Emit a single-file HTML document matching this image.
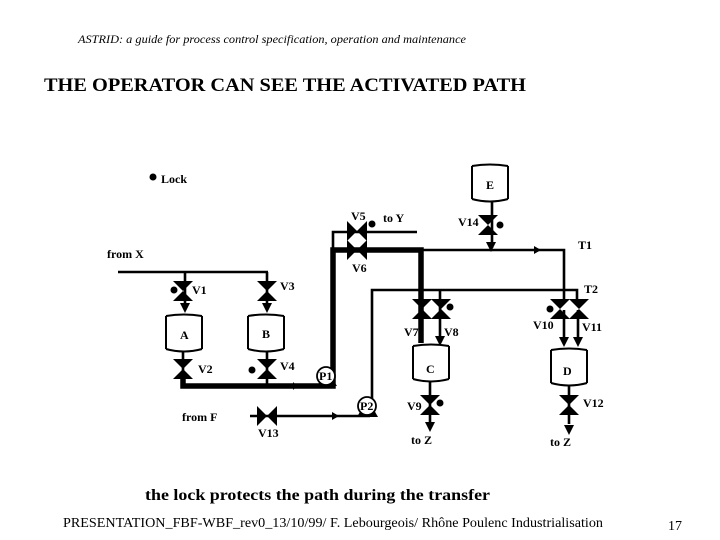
<!DOCTYPE html>
<html><head><meta charset="utf-8"><style>
html,body{margin:0;padding:0;background:#fff}
svg{display:block}
text{font-family:"Liberation Serif",serif;fill:#000}
.l{font-size:12px;font-weight:bold}
</style></head><body>
<svg width="720" height="540" viewBox="0 0 720 540" xmlns="http://www.w3.org/2000/svg">
<defs>
<polygon id="v" points="-10,-10 10,-10 -10,10 10,10" fill="#000"/>
<polygon id="h" points="-10,-10 10,10 10,-10 -10,10" fill="#000"/>
<polygon id="a" points="-5,-6 5,-6 0,4" fill="#000"/>
<g id="t"><rect x="0" y="1" width="38" height="38" rx="2" fill="#fff" stroke="none"/>
<path d="M1 3V36M37 3V36" stroke="#000" stroke-width="2" fill="none"/>
<path d="M1 3Q19 0 37 3M1 36Q19 41 37 36" stroke="#000" stroke-width="2" fill="none"/></g>
</defs>
<text x="78" y="43" font-size="12" font-style="italic" textLength="388" lengthAdjust="spacingAndGlyphs">ASTRID: a guide for process control specification, operation and maintenance</text>
<text x="44" y="91" font-size="19" font-weight="bold" textLength="482" lengthAdjust="spacingAndGlyphs">THE OPERATOR CAN SEE THE ACTIVATED PATH</text>
<text x="145" y="500" font-size="16" font-weight="bold" textLength="345" lengthAdjust="spacingAndGlyphs">the lock protects the path during the transfer</text>
<text x="63" y="527" font-size="14" textLength="540" lengthAdjust="spacingAndGlyphs">PRESENTATION_FBF-WBF_rev0_13/10/99/ F. Lebourgeois/ Rhône Poulenc Industrialisation</text>
<text x="668" y="530" font-size="14">17</text>

<!-- thin pipes -->
<g stroke="#000" stroke-width="2.6" fill="none">
<path d="M118 272H268M185 272V308M267 272V308"/>
<path d="M183 352V386M267 352V386"/>
<path d="M333 250V232H417"/>
<path d="M421 250H564V300M492 202V248"/>
<path d="M372 406V290H577V300M440 290V343"/>
<path d="M250 416H370"/>
<path d="M564 310V342M578 310V342"/>
<path d="M430 382V422M569 385V424"/>
</g>
<!-- thick active path -->
<g stroke="#000" stroke-width="5.5" fill="none">
<path d="M183 379V386H333V250H421V343"/>
</g>
<!-- valves -->
<use href="#v" x="183" y="291"/>
<use href="#v" x="267" y="291"/>
<use href="#v" x="183" y="369"/>
<use href="#v" x="267" y="369"/>
<use href="#h" x="357" y="231"/>
<use href="#h" x="357" y="250"/>
<use href="#v" x="488" y="225"/>
<use href="#v" x="422" y="309"/>
<use href="#v" x="441" y="309"/>
<use href="#v" x="560" y="309"/>
<use href="#v" x="579" y="309"/>
<use href="#v" x="430" y="405"/>
<use href="#v" x="569" y="405"/>
<use href="#h" x="267" y="416"/>
<!-- arrows -->
<use href="#a" x="185" y="309"/>
<use href="#a" x="267" y="309"/>
<use href="#a" x="491" y="248"/>
<use href="#a" x="440" y="342"/>
<use href="#a" x="564" y="343"/>
<use href="#a" x="578" y="343"/>
<use href="#a" x="430" y="428"/>
<use href="#a" x="569" y="431"/>
<polygon points="534,246 541,250 534,254" fill="#000"/>
<polygon points="293,382 297,386 293,390" fill="#000"/>
<polygon points="332,412 339,416 332,420" fill="#000"/>
<!-- tanks -->
<use href="#t" x="471" y="163"/>
<use href="#t" x="165" y="313"/>
<use href="#t" x="247" y="313"/>
<use href="#t" x="412" y="343"/>
<use href="#t" x="550" y="347"/>
<!-- lock dots -->
<g fill="#000">
<circle cx="153" cy="177" r="3.5"/>
<circle cx="372" cy="224" r="3.5"/>
<circle cx="500" cy="225" r="3.5"/>
<circle cx="174" cy="290" r="3.5"/>
<circle cx="450" cy="307" r="3.5"/>
<circle cx="550" cy="309" r="3.5"/>
<circle cx="252" cy="370" r="3.5"/>
<circle cx="440" cy="403" r="3.5"/>
</g>
<!-- pumps -->
<polygon points="317,386 337,386 333,380 321,380" fill="#000"/>
<circle cx="326" cy="376" r="9" fill="#fff" stroke="#000" stroke-width="1.8"/>
<polygon points="357,417 378,417 374,410 361,410" fill="#000"/>
<circle cx="367" cy="406" r="9" fill="#fff" stroke="#000" stroke-width="1.8"/>
<!-- labels -->
<text class="l" x="161" y="183">Lock</text>
<text class="l" x="107" y="258">from X</text>
<text class="l" x="351" y="220">V5</text>
<text class="l" x="383" y="222">to Y</text>
<text class="l" x="458" y="226">V14</text>
<text class="l" x="486" y="189">E</text>
<text class="l" x="578" y="249">T1</text>
<text class="l" x="352" y="272">V6</text>
<text class="l" x="584" y="293">T2</text>
<text class="l" x="192" y="294">V1</text>
<text class="l" x="280" y="290">V3</text>
<text class="l" x="180" y="339">A</text>
<text class="l" x="262" y="338">B</text>
<text class="l" x="198" y="373">V2</text>
<text class="l" x="280" y="370">V4</text>
<text class="l" x="404" y="336">V7</text>
<text class="l" x="444" y="336">V8</text>
<text class="l" x="533" y="329">V10</text>
<text class="l" x="582" y="331">V11</text>
<text class="l" x="426" y="373">C</text>
<text class="l" x="563" y="375">D</text>
<text class="l" x="319" y="380">P1</text>
<text class="l" x="360" y="410">P2</text>
<text class="l" x="407" y="410">V9</text>
<text class="l" x="583" y="407">V12</text>
<text class="l" x="182" y="421">from F</text>
<text class="l" x="258" y="437">V13</text>
<text class="l" x="411" y="444">to Z</text>
<text class="l" x="550" y="446">to Z</text>
</svg>
</body></html>
